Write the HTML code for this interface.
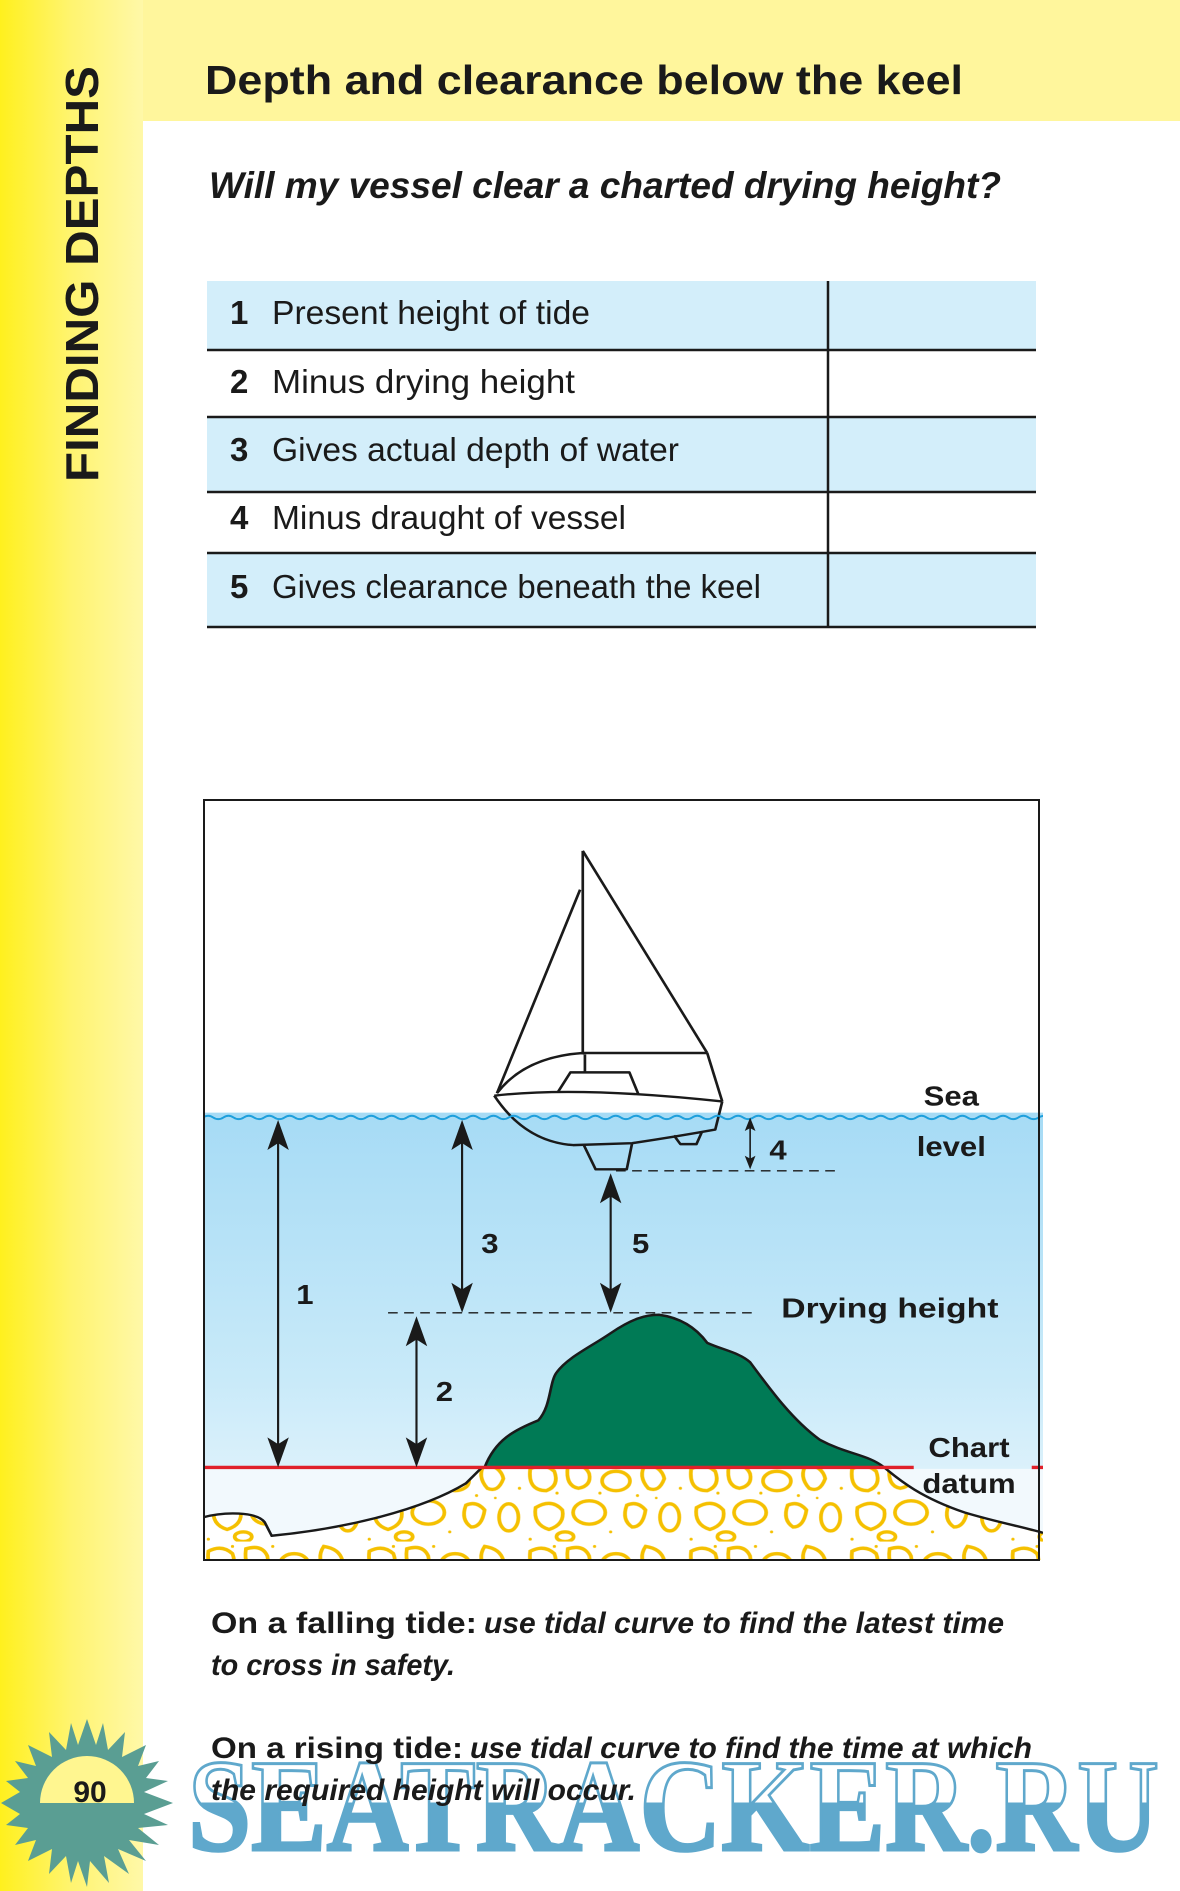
<!DOCTYPE html>
<html><head><meta charset="utf-8"><style>
html,body{margin:0;padding:0;background:#fff;}
svg{display:block}
text{font-family:"Liberation Sans",sans-serif;}
</style></head><body>
<svg width="1180" height="1891" viewBox="0 0 1180 1891" xmlns="http://www.w3.org/2000/svg">
<defs>
<linearGradient id="strip" x1="0" x2="1" y1="0" y2="0">
<stop offset="0" stop-color="#fff01e"/><stop offset="0.5" stop-color="#fff470"/><stop offset="1" stop-color="#fff8a8"/>
</linearGradient>
<linearGradient id="water" x1="0" x2="0" y1="0" y2="1">
<stop offset="0" stop-color="#a6dbf5"/><stop offset="0.6" stop-color="#c9eaf9"/><stop offset="1" stop-color="#eef8fd"/>
</linearGradient>
<linearGradient id="wm" x1="0" x2="0" y1="0" y2="1">
<stop offset="0.48" stop-color="#5fa8cc" stop-opacity="0"/><stop offset="0.48" stop-color="#5fa8cc" stop-opacity="1"/>
</linearGradient>
<pattern id="sand" patternUnits="userSpaceOnUse" width="300" height="170">
<g fill="none" stroke="#f5c000" stroke-width="7">
<path d="M10 20 q25 -15 45 5 q10 30 -15 40 q-35 0 -30 -45z"/>
<path d="M80 15 q30 -10 40 15 q5 25 -20 30 q-25 -5 -20 -45z"/>
<ellipse cx="170" cy="45" rx="26" ry="20"/>
<path d="M225 10 q30 5 35 30 q-10 30 -30 20 q-20 -25 -5 -50z"/>
<path d="M20 100 q30 -20 50 5 q5 30 -25 40 q-30 -10 -25 -45z"/>
<ellipse cx="120" cy="110" rx="30" ry="24"/>
<path d="M190 95 q20 -10 35 10 q-5 35 -25 35 q-20 -15 -10 -45z"/>
<ellipse cx="270" cy="120" rx="18" ry="28"/>
<ellipse cx="75" cy="160" rx="16" ry="10"/>
</g>
<g fill="#f5c000">
<circle cx="60" cy="70" r="3"/><circle cx="140" cy="70" r="3"/><circle cx="10" cy="165" r="3"/>
<circle cx="130" cy="10" r="3"/><circle cx="160" cy="150" r="3"/><circle cx="210" cy="75" r="3"/>
<circle cx="55" cy="10" r="3"/><circle cx="245" cy="80" r="2.5"/><circle cx="290" cy="60" r="3"/>
</g>
</pattern>
</defs>

<rect x="0" y="0" width="1180" height="121" fill="#fff69c"/>
<rect x="0" y="0" width="143" height="1891" fill="url(#strip)"/>

<text transform="translate(98,482) rotate(-90)" font-size="46" font-weight="bold" fill="#1a1a1a" textLength="416" lengthAdjust="spacingAndGlyphs">FINDING DEPTHS</text>

<text x="205" y="94" font-size="41" font-weight="bold" fill="#1a1a1a" textLength="758" lengthAdjust="spacingAndGlyphs">Depth and clearance below the keel</text>
<text x="209" y="198" font-size="37" font-weight="bold" font-style="italic" fill="#1a1a1a" textLength="792" lengthAdjust="spacingAndGlyphs">Will my vessel clear a charted drying height?</text>

<rect x="207" y="281" width="829" height="69" fill="#d3eefa"/>
<rect x="207" y="417" width="829" height="75" fill="#d3eefa"/>
<rect x="207" y="553" width="829" height="74" fill="#d3eefa"/>
<g stroke="#1a1a1a" stroke-width="2.5">
<line x1="207" y1="350" x2="1036" y2="350"/><line x1="207" y1="417" x2="1036" y2="417"/>
<line x1="207" y1="492" x2="1036" y2="492"/><line x1="207" y1="553" x2="1036" y2="553"/>
<line x1="207" y1="627" x2="1036" y2="627"/><line x1="828" y1="281" x2="828" y2="627"/>
</g>
<g font-size="33" fill="#1a1a1a">
<text x="230" y="324" font-weight="bold">1</text><text x="272" y="324" textLength="318" lengthAdjust="spacingAndGlyphs">Present height of tide</text>
<text x="230" y="393" font-weight="bold">2</text><text x="272" y="393" textLength="303" lengthAdjust="spacingAndGlyphs">Minus drying height</text>
<text x="230" y="461" font-weight="bold">3</text><text x="272" y="461" textLength="407" lengthAdjust="spacingAndGlyphs">Gives actual depth of water</text>
<text x="230" y="529" font-weight="bold">4</text><text x="272" y="529" textLength="354" lengthAdjust="spacingAndGlyphs">Minus draught of vessel</text>
<text x="230" y="598" font-weight="bold">5</text><text x="272" y="598" textLength="489" lengthAdjust="spacingAndGlyphs">Gives clearance beneath the keel</text>
</g>

<svg x="203" y="800" width="840" height="760" viewBox="0 0 1566 1568" preserveAspectRatio="none">
<rect x="0" y="645" width="1566" height="923" fill="url(#water)"/>
<rect x="0" y="1380" width="1566" height="188" fill="#f2f9fd"/>
<path d="M0 1480 C40 1468 100 1468 115 1490 L128 1518 C250 1505 400 1470 490 1410 L520 1377 L1270 1377 C1300 1405 1340 1440 1420 1470 C1480 1490 1530 1500 1566 1512 L1566 1568 L0 1568 Z" fill="#fff"/>
<path d="M0 1480 C40 1468 100 1468 115 1490 L128 1518 C250 1505 400 1470 490 1410 L520 1377 L1270 1377 C1300 1405 1340 1440 1420 1470 C1480 1490 1530 1500 1566 1512 L1566 1568 L0 1568 Z" fill="url(#sand)"/>
<path d="M0 1480 C40 1468 100 1468 115 1490 L128 1518 C250 1505 400 1470 490 1410 L520 1377 M1270 1377 C1300 1405 1340 1440 1420 1470 C1480 1490 1530 1500 1566 1512" fill="none" stroke="#1a1a1a" stroke-width="5"/>
<path d="M525 1377 C545 1320 580 1300 625 1280 C650 1250 645 1200 660 1180 C680 1150 720 1130 760 1100 C800 1070 825 1062 850 1062 C890 1068 920 1090 940 1120 C970 1135 1000 1140 1020 1160 C1060 1220 1100 1280 1150 1320 C1200 1350 1240 1350 1270 1377 Z" fill="#007a55" stroke="#1a1a1a" stroke-width="5"/>
<line x1="0" y1="1377" x2="1325" y2="1377" stroke="#e0202a" stroke-width="7"/>
<line x1="1545" y1="1377" x2="1566" y2="1377" stroke="#e0202a" stroke-width="7"/>
<line x1="345" y1="1058" x2="1035" y2="1058" stroke="#1a1a1a" stroke-width="3" stroke-dasharray="18 12"/>
<line x1="770" y1="765" x2="1190" y2="765" stroke="#1a1a1a" stroke-width="3" stroke-dasharray="18 12"/>
<g fill="none" stroke="#1a1a1a" stroke-width="5" stroke-linejoin="round">
<line x1="708" y1="105" x2="708" y2="525"/>
<line x1="708" y1="105" x2="940" y2="522"/>
<line x1="708" y1="522" x2="940" y2="522"/>
<line x1="703" y1="185" x2="548" y2="605"/>
<line x1="940" y1="522" x2="968" y2="622"/>
<path d="M548 605 Q600 530 708 522"/>
<line x1="712" y1="525" x2="712" y2="562"/>
<path d="M662 602 L685 562 L795 562 L812 608"/>
<path d="M543 610 Q700 590 968 622"/>
<path d="M543 610 Q600 705 690 712 L800 708 Q880 695 955 680 L968 622"/>
<path d="M710 712 L732 762 L790 762 L800 708"/>
<path d="M878 692 L890 710 L920 710 L930 685"/>
</g>
<path d="M0 655 q9.5 -7 19 0 t19 0 t19 0 t19 0 t19 0 t19 0 t19 0 t19 0 t19 0 t19 0 t19 0 t19 0 t19 0 t19 0 t19 0 t19 0 t19 0 t19 0 t19 0 t19 0 t19 0 t19 0 t19 0 t19 0 t19 0 t19 0 t19 0 t19 0 t19 0 t19 0 t19 0 t19 0 t19 0 t19 0 t19 0 t19 0 t19 0 t19 0 t19 0 t19 0 t19 0 t19 0 t19 0 t19 0 t19 0 t19 0 t19 0 t19 0 t19 0 t19 0 t19 0 t19 0 t19 0 t19 0 t19 0 t19 0 t19 0 t19 0 t19 0 t19 0 t19 0 t19 0 t19 0 t19 0 t19 0 t19 0 t19 0 t19 0 t19 0 t19 0 t19 0 t19 0 t19 0 t19 0 t19 0 t19 0 t19 0 t19 0 t19 0 t19 0 t19 0 t19 0 t19 0 t19 0 t19 0" fill="none" stroke="#1e9fdc" stroke-width="4"/>
<g stroke="#1a1a1a" stroke-width="4">
<line x1="140" y1="690" x2="140" y2="1345"/>
<line x1="483" y1="690" x2="483" y2="1025"/>
<line x1="760" y1="800" x2="760" y2="1025"/>
<line x1="398" y1="1095" x2="398" y2="1345"/>
<line x1="1020" y1="670" x2="1020" y2="748" stroke-width="3"/>
</g>
<g fill="#1a1a1a">
<polygon points="140,660 120,722 140,708 160,722"/><polygon points="140,1377 120,1315 140,1329 160,1315"/>
<polygon points="483,660 463,722 483,708 503,722"/><polygon points="483,1058 463,996 483,1010 503,996"/>
<polygon points="760,770 740,832 760,818 780,832"/><polygon points="760,1058 740,996 760,1010 780,996"/>
<polygon points="398,1065 378,1127 398,1113 418,1127"/><polygon points="398,1377 378,1315 398,1329 418,1315"/>
<polygon points="1020,655 1010,683 1020,677 1030,683"/><polygon points="1020,762 1010,734 1020,740 1030,734"/>
</g>
<g font-size="58" font-weight="bold" fill="#1a1a1a">
<text x="190" y="1040" text-anchor="middle">1</text>
<text x="450" y="1240" text-anchor="middle">2</text>
<text x="535" y="935" text-anchor="middle">3</text>
<text x="1072" y="742" text-anchor="middle">4</text>
<text x="816" y="935" text-anchor="middle">5</text>
<text x="1395" y="630" text-anchor="middle">Sea</text>
<text x="1395" y="735" text-anchor="middle">level</text>
<text x="1078" y="1068" textLength="405" lengthAdjust="spacingAndGlyphs">Drying height</text>
<text x="1428" y="1355" text-anchor="middle">Chart</text>
<text x="1428" y="1430" text-anchor="middle">datum</text>
</g>
</svg>
<rect x="204" y="800" width="835" height="760" fill="none" stroke="#1a1a1a" stroke-width="2"/>

<polygon fill="#5a9e93" points="173,1803 144,1814 168,1825 138,1828 159,1845 129,1840 146,1861 118,1849 129,1874 104,1856 109,1883 90,1861 87,1887 78,1861 71,1883 66,1856 49,1874 52,1849 28,1861 36,1840 15,1845 28,1828 6,1825 20,1814 1,1803 20,1792 6,1781 28,1778 15,1761 36,1766 28,1745 52,1757 49,1732 66,1750 71,1723 78,1745 87,1719 96,1745 103,1723 108,1750 125,1732 122,1757 146,1745 138,1766 159,1761 146,1778 168,1781 144,1792"/>
<path d="M40 1803 A47 47 0 0 1 134 1803 Z" fill="#fff690"/>
<text x="90" y="1802" font-size="30" font-weight="bold" fill="#1a1a1a" text-anchor="middle">90</text>

<text x="188" y="1850" style="font-family:'Liberation Serif',serif" font-size="132" font-weight="bold" fill="url(#wm)" stroke="#5fa8cc" stroke-width="3" textLength="971" lengthAdjust="spacingAndGlyphs">SEATRACKER.RU</text>

<g font-size="30" fill="#1a1a1a">
<text x="211" y="1633"><tspan font-weight="bold" textLength="266" lengthAdjust="spacingAndGlyphs">On a falling tide:</tspan><tspan x="484" font-weight="bold" font-style="italic" textLength="520" lengthAdjust="spacingAndGlyphs">use tidal curve to find the latest time</tspan></text>
<text x="211" y="1675" font-weight="bold" font-style="italic" textLength="244" lengthAdjust="spacingAndGlyphs">to cross in safety.</text>
<text x="211" y="1758"><tspan font-weight="bold" textLength="252" lengthAdjust="spacingAndGlyphs">On a rising tide:</tspan><tspan x="470" font-weight="bold" font-style="italic" textLength="562" lengthAdjust="spacingAndGlyphs">use tidal curve to find the time at which</tspan></text>
<text x="211" y="1800" font-weight="bold" font-style="italic" textLength="425" lengthAdjust="spacingAndGlyphs">the required height will occur.</text>
</g>
</svg>
</body></html>
